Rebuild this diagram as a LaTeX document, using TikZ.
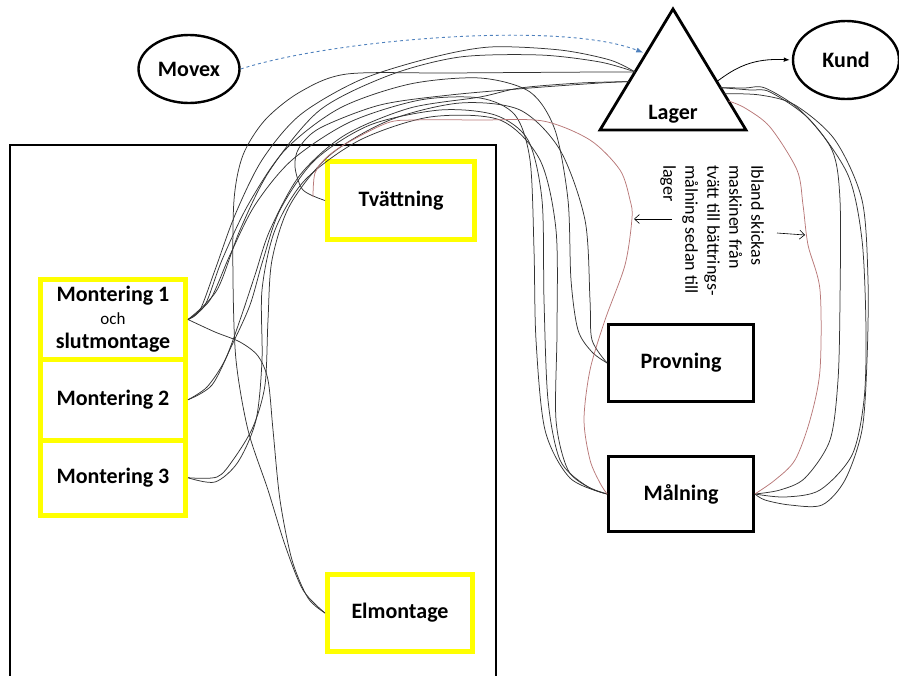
\documentclass[tikz,border=0pt]{standalone}
\usepackage{fontspec}
\setmainfont{Carlito}
\usetikzlibrary{arrows.meta,calc,shapes.geometric}
\definecolor{Yel}{HTML}{FFFF00}
\definecolor{Rust}{HTML}{B87878}
\definecolor{Dash}{HTML}{4F81BD}

\begin{document}
\begin{tikzpicture}[x=1pt,y=-1pt,>=Latex,
 lbl/.style={font=\bfseries\fontsize{22}{26}\selectfont},
 ybox/.style={lbl,draw=Yel,line width=5pt,minimum width=145pt,inner sep=0,align=center},
 kbox/.style={lbl,draw,line width=2.8pt,minimum width=145pt,minimum height=77pt},
 oval/.style={lbl,draw,ellipse,line width=2.4pt,inner sep=0},
 hand/.style={draw=black!80,line width=.75pt},
 redhand/.style={hand,draw=Rust}]
\useasboundingbox(0,0)rectangle(899,675);
\draw[line width=2.6pt](10,678)--(10,145)--(496,145)--(496,678);
\node[oval,minimum width=101pt,minimum height=68pt](movex)at(189,69){Movex};
\node[oval,minimum width=106pt,minimum height=78pt](kund)at(846,60){Kund};
\coordinate(lt)at(673,9);\coordinate(ll)at(600,130);\coordinate(lr)at(746,130);
\draw[line width=2.8pt](lt)--(ll)--(lr)--cycle;
\node[lbl](lager)at(673,114){Lager};
\coordinate(lin0)at($(lt)!.37!(ll)$);\coordinate(lin1)at($(lt)!.52!(ll)$);\coordinate(lin2)at($(lt)!.6!(ll)$);
\coordinate(rout0)at($(lt)!.6!(lr)$);\coordinate(rout1)at($(lt)!.65!(lr)$);
\coordinate(rout2)at($(lt)!.7!(lr)$);\coordinate(rout3)at($(lt)!.76!(lr)$);
\node[ybox,minimum width=147pt,minimum height=78pt](tvatt)at(401,200.5){Tvättning};
\node[ybox,minimum height=80pt](mont1)at(113,319.5){Montering 1\\[-3pt]{\mdseries\fontsize{17}{19}\selectfont och}\\[-2pt]slutmontage};
\node[ybox,minimum height=80.5pt](mont2)at(113,399.75){Montering 2};
\node[ybox,minimum height=75.5pt](mont3)at(113,477.75){Montering 3};
\node[ybox,minimum height=77pt](elmont)at(400,613){Elmontage};
\node[kbox](provning)at(681,363){Provning};
\node[kbox,minimum height=75pt](malning)at(681,494){Målning};
\node[rotate=-90,anchor=north west,align=left,inner sep=0,font=\fontsize{18}{22}\selectfont](note)at(764,165)
 {Ibland skickas\\maskinen från\\tvätt till bättrings-\\målning sedan till\\lager};
\coordinate(redst)at(313,197);
\coordinate(n1)at(672,219);\coordinate(n2)at(634,219);
\coordinate(n3)at(777,233);\coordinate(n4)at(805,235);
\draw[Dash,dashed,line width=.9pt,-{Latex[length=7pt]},shorten >=3pt](movex.east)..controls(330,40)and(560,20)..(lin0);
\draw[line width=.8pt,-{Latex[length=6pt]},shorten >=2pt](rout0)..controls(735,68)and(752,58)..(kund.west);
\draw[line width=.6pt,-{Straight Barb[length=5pt,width=9pt]}](n1)--(n2);
\draw[line width=.6pt,-{Straight Barb[length=5pt,width=9pt]}](n3)--(n4);
\draw[hand]plot[smooth]coordinates{(lin1)(600,72)(450,73)(347,74)(300,92)(265,120)(243,155)(234,200)(233,280)(236,360)(248,430)(268,490)(285,545)(303,590)(elmont.west)};
\draw[hand]plot[smooth]coordinates{(mont1.east)(215,332)(240,342)(258,356)(268,380)(273,430)(280,500)(292,560)(308,598)(elmont.west)};
\draw[hand]plot[smooth]coordinates{(mont1.east)(200,310)(215,270)(235,215)(262,160)(300,115)(360,80)(430,58)(490,47)(560,50)(610,60)(lin1)};
\draw[hand]plot[smooth]coordinates{(mont1.east)(217,290)(240,230)(270,170)(320,110)(390,75)(460,57)(540,55)(600,62)(lin1)};
\draw[hand]plot[smooth]coordinates{(mont1.east)(205,305)(222,260)(248,205)(285,150)(340,108)(410,84)(480,78)(530,92)(555,130)(568,200)(571,280)(578,330)(592,352)(provning.west)};
\draw[hand]plot[smooth]coordinates{(mont1.east)(210,300)(230,255)(255,205)(292,160)(350,122)(420,100)(480,98)(515,115)(530,160)(534,250)(536,340)(545,430)(570,478)(malning.west)};
\draw[hand]plot[smooth]coordinates{(mont2.east)(207,387)(225,360)(240,320)(255,275)(270,230)(300,175)(345,135)(410,108)(480,97)(520,88)(580,83)(lin2)};
\draw[hand]plot[smooth]coordinates{(mont2.east)(212,385)(232,345)(250,305)(263,260)(280,210)(315,160)(370,125)(440,110)(495,115)(528,140)(542,200)(544,300)(548,400)(560,460)(585,485)(malning.west)};
\draw[hand]plot[smooth]coordinates{(mont3.east)(217,477)(233,460)(253,427)(265,385)(268,320)(272,260)(290,205)(330,155)(390,120)(460,103)(520,110)(560,150)(585,220)(590,300)(592,340)(provning.west)};
\draw[hand]plot[smooth]coordinates{(mont3.east)(215,482)(238,462)(256,420)(262,360)(262,290)(275,230)(305,180)(360,140)(430,117)(500,120)(540,160)(556,230)(557,330)(556,420)(568,470)(590,488)(malning.west)};
\draw[hand]plot[smooth]coordinates{(tvatt.west)(303,190)(295,167)(299,148)(320,128)(380,105)(450,95)(530,88)(600,83)(lin2)};
\draw[hand]plot[smooth]coordinates{(rout1)(745,88)(765,88)(800,110)(832,150)(840,200)(840,300)(838,380)(830,440)(805,478)(780,490)(malning.east)};
\draw[hand]plot[smooth]coordinates{(rout1)(750,90)(770,92)(810,120)(848,175)(862,240)(866,330)(864,400)(852,455)(820,490)(785,497)(malning.east)};
\draw[hand]plot[smooth]coordinates{(rout2)(760,95)(795,105)(835,140)(862,200)(868,280)(867,360)(862,430)(845,480)(822,505)(790,505)(765,500)(malning.east)};
\draw[redhand]plot[smooth]coordinates{(redst)(315,173)(327,157)(347,143)(387,123)(413,120)(480,120)(543,121)(590,140)(620,170)(630,200)(632,218)(625,265)(605,320)(590,370)(584,420)(590,460)(600,483)(malning.west)};
\draw[redhand]plot[smooth]coordinates{(malning.east)(775,480)(795,460)(810,420)(820,370)(820,290)(808,245)(803,205)(797,170)(770,127)(745,108)(rout3)};
\end{tikzpicture}
\end{document}
